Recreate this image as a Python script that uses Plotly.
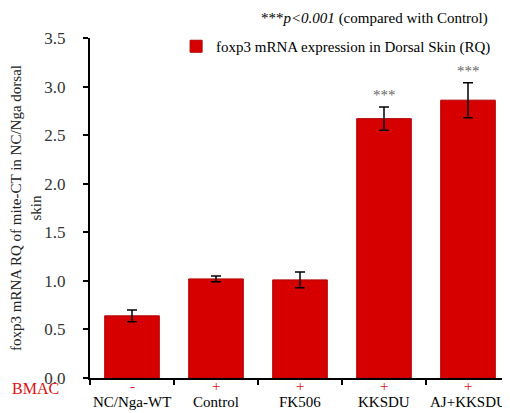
import plotly.graph_objects as go

categories = ["NC/Nga-WT", "Control", "FK506", "KKSDU", "AJ+KKSDU"]
bmac = ["-", "+", "+", "+", "+"]
values = [0.64, 1.02, 1.01, 2.67, 2.86]
errors = [0.06, 0.03, 0.08, 0.12, 0.18]
stars = ["", "", "", "***", "***"]
yticks = [0.0, 0.5, 1.0, 1.5, 2.0, 2.5, 3.0, 3.5]

FONT = "Liberation Serif"

fig = go.Figure()
fig.add_trace(go.Bar(
    x=categories, y=values,
    name="foxp3 mRNA expression in Dorsal Skin (RQ)",
    marker=dict(color="#d60000", line=dict(color="#b00000", width=1)),
    error_y=dict(type="data", array=errors, color="black", thickness=1.5, width=5),
))

annotations = []
for i, c in enumerate(categories):
    annotations.append(dict(x=c, xref="x", y=-0.025, yref="paper", text=bmac[i],
                            showarrow=False, font=dict(family=FONT, size=15, color="#e01010"),
                            xanchor="center", yanchor="middle"))
    annotations.append(dict(x=c, xref="x", y=-0.07, yref="paper", text=c,
                            showarrow=False, font=dict(family=FONT, size=15, color="black"),
                            xanchor="center", yanchor="middle"))
    if stars[i]:
        annotations.append(dict(x=c, xref="x", y=values[i] + errors[i] + 0.12, yref="y",
                                text=stars[i], showarrow=False, xanchor="center",
                                yanchor="middle",
                                font=dict(family=FONT, size=15, color="#666666")))

annotations.append(dict(x=-0.129, xref="paper", y=-0.03, yref="paper", text="BMAC",
                        showarrow=False, font=dict(family=FONT, size=16, color="#e01010"),
                        xanchor="center", yanchor="middle"))
annotations.append(dict(x=0.952, xref="paper", y=1.0 + 30 / 340, yref="paper", xanchor="right",
                        yanchor="top", showarrow=False,
                        text="***<i>p&lt;0.001</i> (compared with Control)",
                        font=dict(family=FONT, size=15, color="black")))

fig.update_layout(
    width=502, height=405,
    margin=dict(l=82, r=0, t=30, b=35, autoexpand=False),
    paper_bgcolor="white", plot_bgcolor="white",
    bargap=0.35,
    showlegend=True,
    legend=dict(x=0.205, y=0.975, xanchor="left", yanchor="middle",
                font=dict(family=FONT, size=15, color="black"),
                bgcolor="rgba(0,0,0,0)", itemwidth=30),
    annotations=annotations,
    font=dict(family=FONT, color="black"),
)
fig.update_xaxes(
    showline=True, linecolor="black", linewidth=2, automargin=False,
    ticks="outside", tickson="boundaries", ticklen=5, tickwidth=2, tickcolor="black",
    showticklabels=False, showgrid=False, range=[-0.5, 4.5],
)
fig.update_yaxes(
    range=[0, 3.5], tickvals=yticks, ticktext=[f"{v:.1f}" for v in yticks],
    showline=True, linecolor="black", linewidth=2, automargin=False,
    ticks="outside", ticklen=5, tickwidth=2, tickcolor="black",
    tickfont=dict(family=FONT, size=17, color="#333333"),
    ticklabelstandoff=14,
    showgrid=False, zeroline=False,
    title=dict(text="foxp3 mRNA RQ of mite-CT in NC/Nga dorsal<br>skin",
               font=dict(family=FONT, size=15, color="#222222"), standoff=22),
)

fig.write_html("out.html")
